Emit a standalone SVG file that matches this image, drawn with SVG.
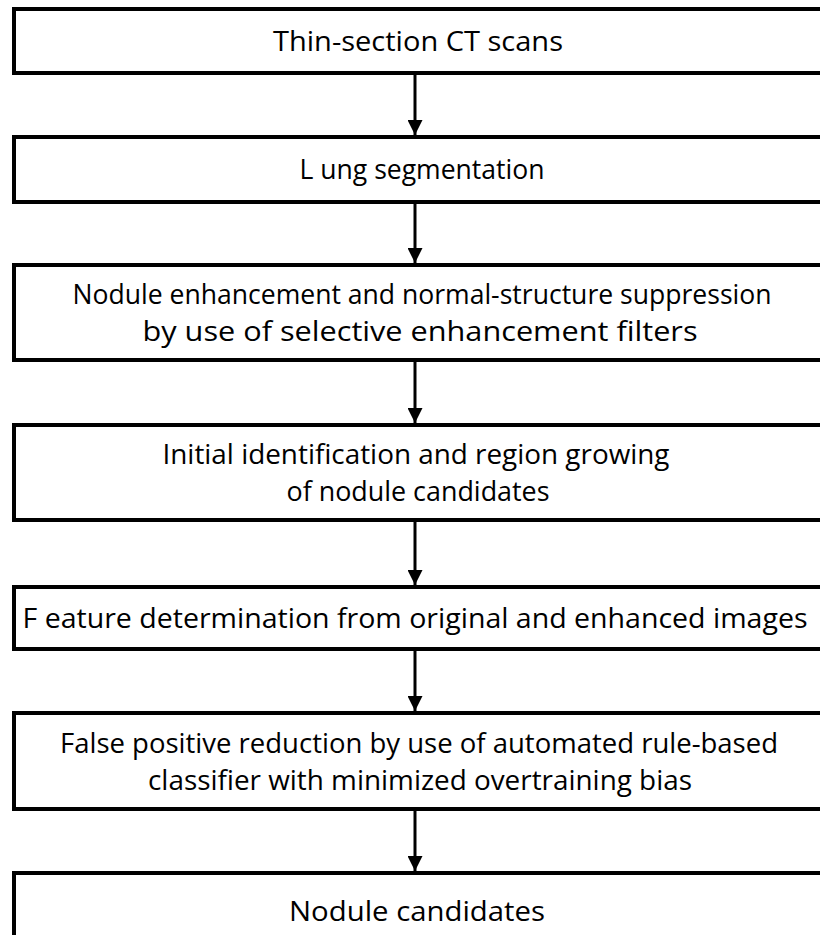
<svg xmlns="http://www.w3.org/2000/svg" width="820" height="935" viewBox="0 0 820 935">
<style>
.box{fill:#fff;stroke:#000;stroke-width:4}
.t{font-family:"Open Sans","Liberation Sans",sans-serif;font-size:27px;fill:#000;text-anchor:middle}
.c{stroke:#000;stroke-width:3;fill:none}
</style>
<defs>
<marker id="ah" markerUnits="userSpaceOnUse" markerWidth="16" markerHeight="15" refX="15" refY="7.5" orient="auto" viewBox="0 0 15 15">
<path d="M0,0 L15,7.5 L0,15 Z" fill="#000"/>
</marker>
</defs>
<rect width="820" height="935" fill="#fff"/>
<g id="n1"><rect class="box" x="14" y="9" width="820" height="64"/><text class="t" x="418" y="51" textLength="290" lengthAdjust="spacingAndGlyphs">Thin-section CT scans</text></g>
<g id="n2"><rect class="box" x="14" y="137" width="820" height="65"/><text class="t" x="422" y="179" textLength="245" lengthAdjust="spacingAndGlyphs">L ung segmentation</text></g>
<g id="n3"><rect class="box" x="14" y="265" width="820" height="95"/><text class="t" x="422" y="304" textLength="699" lengthAdjust="spacingAndGlyphs">Nodule enhancement and normal-structure suppression</text><text class="t" x="420" y="341" textLength="555" lengthAdjust="spacingAndGlyphs">by use of selective enhancement filters</text></g>
<g id="n4"><rect class="box" x="14" y="425" width="820" height="95"/><text class="t" x="416" y="464" textLength="507" lengthAdjust="spacingAndGlyphs">Initial identification and region growing</text><text class="t" x="418" y="501" textLength="263" lengthAdjust="spacingAndGlyphs">of nodule candidates</text></g>
<g id="n5"><rect class="box" x="14" y="587" width="820" height="62"/><text class="t" x="415" y="628" textLength="785" lengthAdjust="spacingAndGlyphs">F eature determination from original and enhanced images</text></g>
<g id="n6"><rect class="box" x="14" y="713" width="820" height="96"/><text class="t" x="419" y="753" textLength="718" lengthAdjust="spacingAndGlyphs">False positive reduction by use of automated rule-based</text><text class="t" x="420" y="790" textLength="544" lengthAdjust="spacingAndGlyphs">classifier with minimized overtraining bias</text></g>
<g id="n7"><rect class="box" x="14" y="873" width="820" height="80"/><text class="t" x="417" y="921" textLength="256" lengthAdjust="spacingAndGlyphs">Nodule candidates</text></g>
<g id="connectors">
<line class="c" x1="415" y1="75" x2="415" y2="135" marker-end="url(#ah)"/>
<line class="c" x1="415" y1="204" x2="415" y2="263" marker-end="url(#ah)"/>
<line class="c" x1="415" y1="362" x2="415" y2="423" marker-end="url(#ah)"/>
<line class="c" x1="415" y1="522" x2="415" y2="585" marker-end="url(#ah)"/>
<line class="c" x1="415" y1="651" x2="415" y2="711" marker-end="url(#ah)"/>
<line class="c" x1="415" y1="811" x2="415" y2="871" marker-end="url(#ah)"/>
</g>
</svg>
